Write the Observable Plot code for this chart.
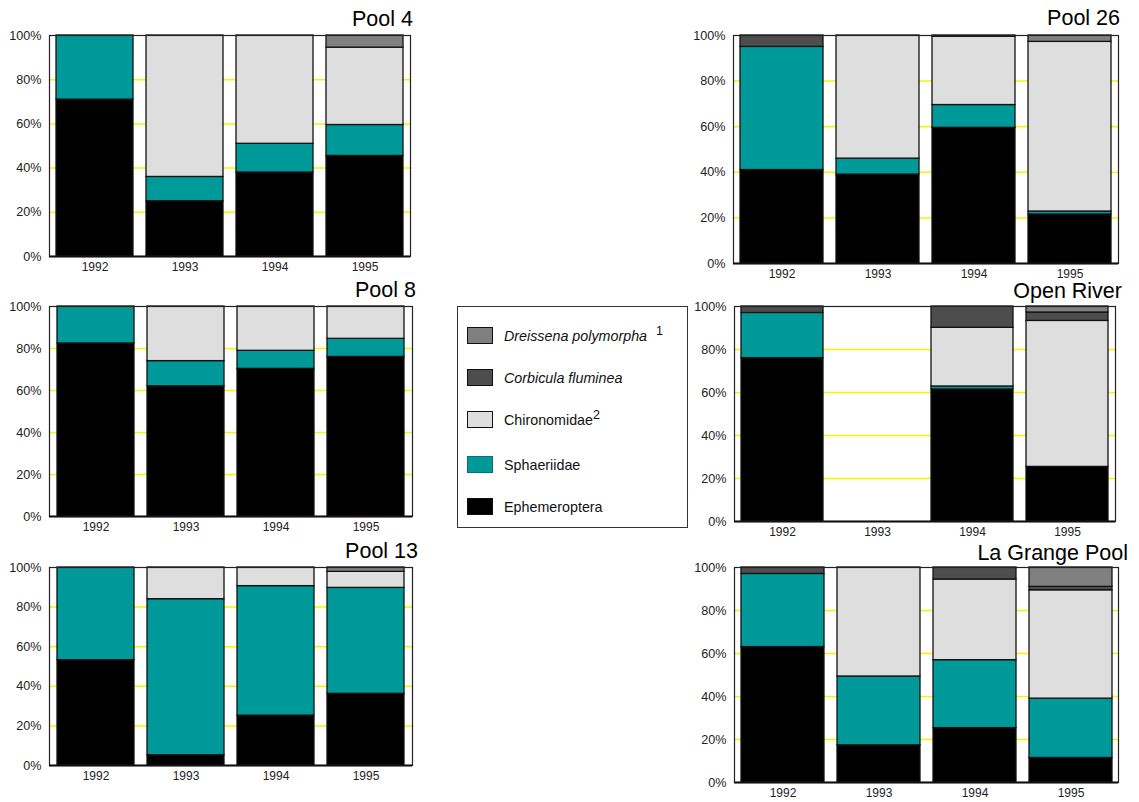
<!DOCTYPE html>
<html>
<head>
<meta charset="utf-8">
<script src="https://cdn.jsdelivr.net/npm/d3@7"></script>
<script src="https://cdn.jsdelivr.net/npm/@observablehq/plot@0.6"></script>
<style>
  html, body { margin: 0; padding: 0; background: #fff; }
  #root { position: relative; width: 1139px; height: 802px; font-family: "Liberation Sans", Arial, sans-serif; }
  .panel { position: absolute; }
  .title { position: absolute; font-size: 21.5px; line-height: 21px; color: #000; white-space: nowrap; }
  .legend { position: absolute; left: 457px; top: 306px; width: 231px; height: 222px; border: 1px solid #333; box-sizing: border-box; }
  .legend .item { position: absolute; left: 9px; height: 18px; font-size: 14.3px; color: #111; white-space: nowrap; }
  .legend .sw { position: absolute; left: 0; top: 0; width: 26px; height: 17px; box-sizing: border-box; border: 1.5px solid #111; }
  .legend .lab { position: absolute; left: 37px; top: 0; line-height: 18px; }
  .legend sup { font-size: 12.5px; position: relative; top: -6px; vertical-align: baseline; }
  .panel svg [aria-label="y-axis tick label"] { font-size: 12.6px; }
</style>
</head>
<body>
<div id="root"></div>
<script>
// ---- data ----
const years = ["1992", "1993", "1994", "1995"];
const taxa = ["Ephemeroptera", "Sphaeriidae", "Chironomidae", "Corbicula fluminea", "Dreissena polymorpha"];
const taxaColors = ["#000000", "#009999", "#dedede", "#4d4d4d", "#808080"];

// each row = one year; columns follow `taxa` (percent)
const pool4 = [
  [71, 29, 0, 0, 0],
  [25, 11, 64, 0, 0],
  [38, 13, 49, 0, 0],
  [45.5, 14, 35, 0, 5.5]
];
const pool26 = [
  [41, 54, 0, 5, 0],
  [39, 7, 54, 0, 0],
  [59.5, 10, 30, 0.5, 0],
  [21.5, 1.3, 74.4, 0, 2.8]
];
const pool8 = [
  [82.4, 17.6, 0, 0, 0],
  [62, 12, 26, 0, 0],
  [70.3, 8.6, 21.1, 0, 0],
  [76, 8.6, 15.4, 0, 0]
];
const openRiver = [
  [76, 21, 0, 3, 0],
  null,
  [61.4, 1.4, 27.3, 9.9, 0],
  [25.4, 0, 67.9, 3.9, 2.8]
];
const pool13 = [
  [53.2, 46.8, 0, 0, 0],
  [5.2, 78.8, 16, 0, 0],
  [25.2, 65.4, 9.4, 0, 0],
  [36.2, 53.5, 8.1, 0, 2.2]
];
const laGrange = [
  [63, 34, 0, 3, 0],
  [17.3, 32, 50.7, 0, 0],
  [25.3, 31.6, 37.5, 5.6, 0],
  [11.4, 27.6, 50.4, 1.6, 9]
];
const yTicks = [0, 20, 40, 60, 80, 100];
const gridTicks = [20, 40, 60, 80];

// ---- drawing ----
const root = document.getElementById("root");

function toRows(table) {
  const rows = [];
  table.forEach((r, i) => {
    if (!r) return;
    r.forEach((v, j) => { if (v > 0) rows.push({year: years[i], taxon: taxa[j], value: v}); });
  });
  return rows;
}

function panel(table, title, box) {
  const rows = toRows(table);
  const chart = Plot.plot({
    width: box.width, height: box.height,
    marginLeft: box.ml, marginRight: box.mr, marginTop: box.mt, marginBottom: box.mb,
    style: {fontFamily: "'Liberation Sans', Arial, sans-serif", fontSize: "12px", color: "#222", background: "transparent", overflow: "visible"},
    x: {domain: years, paddingInner: 0.14, paddingOuter: 0.07, label: null, tickSize: 0, tickPadding: 6},
    y: {domain: [0, 100], ticks: yTicks, tickFormat: d => d + "%", label: null, tickSize: 0, tickPadding: 8},
    color: {domain: taxa, range: taxaColors},
    marks: [
      Plot.ruleY(gridTicks, {stroke: "#f5f500", strokeWidth: 1.5}),
      Plot.barY(rows, {x: "year", y: "value", fill: "taxon", order: taxa, stroke: "#111", strokeWidth: 1.3}),
      Plot.frame({stroke: "#222", strokeWidth: 1.2}),
      Plot.ruleY([0], {stroke: "#111", strokeWidth: 2})
    ]
  });
  const wrap = document.createElement("div");
  wrap.className = "panel";
  wrap.style.left = box.left + "px";
  wrap.style.top = box.top + "px";
  wrap.appendChild(chart);
  root.appendChild(wrap);

  const t = document.createElement("div");
  t.className = "title";
  t.textContent = title;
  t.style.right = (1139 - box.titleRight) + "px";
  t.style.top = (box.titleBase - 19) + "px";
  root.appendChild(t);
}

panel(pool4, "Pool 4", {left: 0, top: 0, width: 420, height: 280, ml: 49, mr: 10, mt: 35, mb: 24, titleRight: 413, titleBase: 28});
panel(pool26, "Pool 26", {left: 690, top: 0, width: 449, height: 280, ml: 43, mr: 21, mt: 35, mb: 17, titleRight: 1120, titleBase: 27});
panel(pool8, "Pool 8", {left: 0, top: 280, width: 420, height: 260, ml: 49, mr: 8, mt: 26, mb: 24, titleRight: 416, titleBase: 299});
panel(openRiver, "Open River", {left: 690, top: 280, width: 449, height: 260, ml: 44, mr: 24, mt: 26, mb: 19, titleRight: 1122, titleBase: 300});
panel(pool13, "Pool 13", {left: 0, top: 540, width: 420, height: 262, ml: 49, mr: 8, mt: 27, mb: 37, titleRight: 418, titleBase: 560});
panel(laGrange, "La Grange Pool", {left: 690, top: 540, width: 449, height: 262, ml: 44, mr: 21, mt: 27, mb: 20, titleRight: 1128, titleBase: 562});

// ---- legend ----
const legendItems = [
  {taxon: "Dreissena polymorpha", italic: true, sup: "1", y: 20},
  {taxon: "Corbicula fluminea", italic: true, sup: "", y: 62},
  {taxon: "Chironomidae", italic: false, sup: "2", y: 104},
  {taxon: "Sphaeriidae", italic: false, sup: "", y: 149},
  {taxon: "Ephemeroptera", italic: false, sup: "", y: 191}
];
const legend = document.createElement("div");
legend.className = "legend";
legendItems.forEach(it => {
  const item = document.createElement("div");
  item.className = "item";
  item.style.top = it.y + "px";
  const sw = document.createElement("div");
  sw.className = "sw";
  const c = taxaColors[taxa.indexOf(it.taxon)];
  sw.style.background = c;
  if (it.taxon === "Sphaeriidae") sw.style.borderColor = "#0a7070";
  item.appendChild(sw);
  const lab = document.createElement("div");
  lab.className = "lab";
  const name = document.createElement("span");
  name.textContent = it.taxon;
  if (it.italic) name.style.fontStyle = "italic";
  lab.appendChild(name);
  if (it.sup) {
    const s = document.createElement("sup");
    s.textContent = it.sup;
    if (it.italic) s.style.marginLeft = "9px";
    lab.appendChild(s);
  }
  item.appendChild(lab);
  legend.appendChild(item);
});
root.appendChild(legend);
</script>
</body>
</html>
